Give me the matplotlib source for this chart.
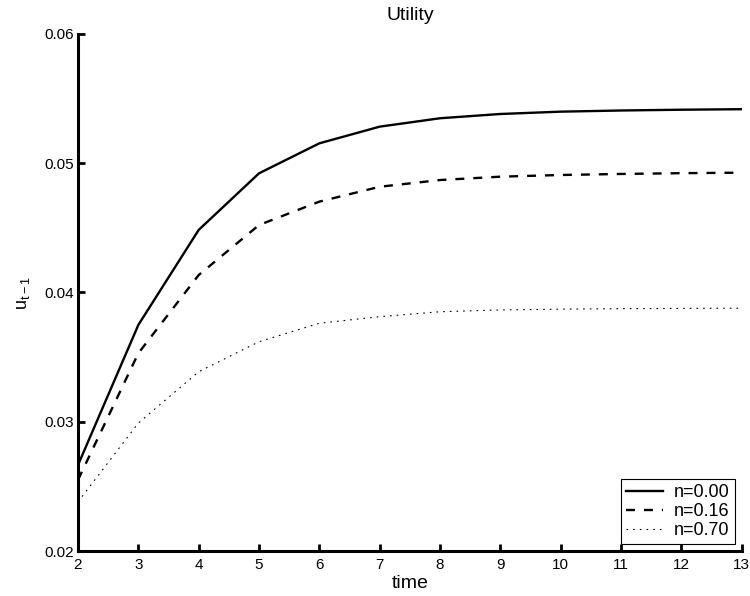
import matplotlib
matplotlib.use("Agg")
import matplotlib.pyplot as plt

plt.rcParams["font.family"] = ["Liberation Sans", "DejaVu Sans"]

# values
time = [2, 3, 4, 5, 6, 7, 8, 9, 10, 11, 12, 13]
u_n000 = [0.02665, 0.03749, 0.04484, 0.04922, 0.05154, 0.05283, 0.05348,
          0.05381, 0.05399, 0.05408, 0.05414, 0.05418]
u_n016 = [0.02550, 0.03530, 0.04135, 0.04522, 0.04703, 0.04818, 0.04870,
          0.04896, 0.04909, 0.04917, 0.04923, 0.04927]
u_n070 = [0.02380, 0.02990, 0.03387, 0.03619, 0.03762, 0.03813, 0.03851,
          0.03865, 0.03871, 0.03875, 0.03877, 0.03878]
labels = ["n=0.00", "n=0.16", "n=0.70"]
xticks = list(range(2, 14))
yticks = [0.02, 0.03, 0.04, 0.05, 0.06]

fig = plt.figure(figsize=(7.5, 5.96), dpi=100)
ax = fig.add_axes([0.104, 0.0755, 0.885, 0.8675])

ax.plot(time, u_n000, color="black", lw=1.7, label=labels[0])
ax.plot(time, u_n016, color="black", lw=1.7, dashes=(3.8, 3.8), label=labels[1])
ax.plot(time, u_n070, color="black", lw=0.8, dashes=(1.5, 4.5), label=labels[2])

ax.set_xlim(2, 13)
ax.set_ylim(0.02, 0.06)
ax.set_xticks(xticks)
ax.set_yticks(yticks)
ax.set_yticklabels([f"{v:.2f}" for v in yticks])
ax.tick_params(direction="in", length=5, width=2, labelsize=11)
ax.tick_params(axis="x", pad=5)
ax.tick_params(axis="y", pad=3)
for side in ["top", "right"]:
    ax.spines[side].set_visible(False)
for side in ["left", "bottom"]:
    ax.spines[side].set_linewidth(2.2)

ax.set_xlabel("time", fontsize=14, labelpad=2)
ax.set_ylabel("$\\mathregular{u_{t-1}}$", fontsize=13, labelpad=9)
ax.set_title("Utility", fontsize=14, pad=10)

leg = ax.legend(loc="lower right", fontsize=13, fancybox=False, edgecolor="black",
                framealpha=1, borderaxespad=0.4, handlelength=2.1,
                handletextpad=0.6, borderpad=0.25, labelspacing=0.12)
leg.get_frame().set_linewidth(0.8)

fig.savefig("out.png", dpi=100)
